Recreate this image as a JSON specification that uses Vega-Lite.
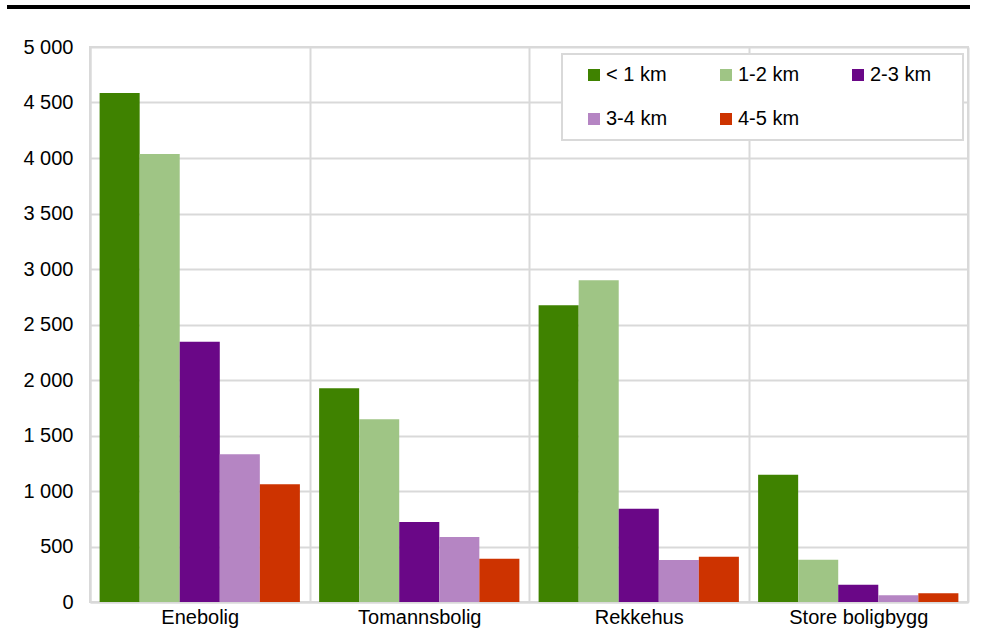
{
  "$schema": "https://vega.github.io/schema/vega-lite/v6.json",
  "padding": {"left": 7, "top": 5, "right": 0, "bottom": 0},
  "background": "white",
  "spacing": 27,
  "config": {
    "font": "Liberation Sans",
    "view": {"stroke": "#d9d9d9", "strokeWidth": 2},
    "locale": {"number": {"decimal": ",", "thousands": " ", "grouping": [3], "currency": ["", " kr"]}}
  },
  "vconcat": [
    {
      "width": 878,
      "height": 4,
      "view": {"stroke": null},
      "data": {"values": [{"start": 0, "end": 963}]},
      "mark": {"type": "rect", "color": "black", "clip": false},
      "encoding": {
        "x": {"field": "start", "type": "quantitative", "scale": {"domain": [83, 961], "zero": false, "nice": false}, "axis": null},
        "x2": {"field": "end"},
        "y": {"datum": 0, "type": "quantitative", "scale": {"domain": [0, 1]}, "axis": null},
        "y2": {"datum": 1}
      }
    },
    {
      "width": 878,
      "height": 555,
      "data": {
        "values": [
          {"bolig": "Enebolig", "avstand": "< 1 km", "antall": 4585},
          {"bolig": "Enebolig", "avstand": "1-2 km", "antall": 4035},
          {"bolig": "Enebolig", "avstand": "2-3 km", "antall": 2345},
          {"bolig": "Enebolig", "avstand": "3-4 km", "antall": 1330},
          {"bolig": "Enebolig", "avstand": "4-5 km", "antall": 1060},
          {"bolig": "Tomannsbolig", "avstand": "< 1 km", "antall": 1925},
          {"bolig": "Tomannsbolig", "avstand": "1-2 km", "antall": 1646},
          {"bolig": "Tomannsbolig", "avstand": "2-3 km", "antall": 720},
          {"bolig": "Tomannsbolig", "avstand": "3-4 km", "antall": 585},
          {"bolig": "Tomannsbolig", "avstand": "4-5 km", "antall": 390},
          {"bolig": "Rekkehus", "avstand": "< 1 km", "antall": 2673},
          {"bolig": "Rekkehus", "avstand": "1-2 km", "antall": 2898},
          {"bolig": "Rekkehus", "avstand": "2-3 km", "antall": 841},
          {"bolig": "Rekkehus", "avstand": "3-4 km", "antall": 378},
          {"bolig": "Rekkehus", "avstand": "4-5 km", "antall": 408},
          {"bolig": "Store boligbygg", "avstand": "< 1 km", "antall": 1147},
          {"bolig": "Store boligbygg", "avstand": "1-2 km", "antall": 381},
          {"bolig": "Store boligbygg", "avstand": "2-3 km", "antall": 156},
          {"bolig": "Store boligbygg", "avstand": "3-4 km", "antall": 60},
          {"bolig": "Store boligbygg", "avstand": "4-5 km", "antall": 78}
        ]
      },
      "mark": {"type": "bar"},
      "encoding": {
        "x": {
          "field": "bolig",
          "type": "nominal",
          "sort": null,
          "title": null,
          "scale": {"paddingInner": 0, "paddingOuter": 0},
          "axis": {
            "labelAngle": 0,
            "labelFontSize": 20,
            "labelColor": "#000000",
            "labelPadding": 5,
            "ticks": false,
            "tickBand": "extent",
            "grid": true,
            "gridColor": "#d9d9d9",
            "gridWidth": 2,
            "domainColor": "#d9d9d9",
            "domainWidth": 2
          }
        },
        "xOffset": {
          "field": "avstand",
          "type": "nominal",
          "scale": {"domain": ["< 1 km", "1-2 km", "2-3 km", "3-4 km", "4-5 km"], "paddingInner": 0, "paddingOuter": 0.24}
        },
        "y": {
          "field": "antall",
          "type": "quantitative",
          "title": null,
          "scale": {"domain": [0, 5000], "nice": false},
          "axis": {
            "values": [0, 500, 1000, 1500, 2000, 2500, 3000, 3500, 4000, 4500, 5000],
            "format": ",d",
            "labelFontSize": 20,
            "labelColor": "#000000",
            "ticks": false,
            "labelPadding": 17,
            "grid": true,
            "gridColor": "#d9d9d9",
            "gridWidth": 2,
            "domainColor": "#d9d9d9",
            "domainWidth": 2
          }
        },
        "color": {
          "field": "avstand",
          "type": "nominal",
          "scale": {
            "domain": ["< 1 km", "1-2 km", "2-3 km", "3-4 km", "4-5 km"],
            "range": ["#3f8200", "#9fc585", "#6a0787", "#b585c3", "#cd3300"]
          },
          "legend": {
            "title": "\u00a0",
            "titleOrient": "right",
            "titlePadding": 21,
            "titleFontSize": 19,
            "orient": "none",
            "legendX": 472,
            "legendY": 49,
            "direction": "horizontal",
            "columns": 3,
            "gridAlign": "all",
            "fillColor": "white",
            "strokeColor": "#d9d9d9",
            "padding": 11,
            "symbolType": "square",
            "symbolSize": 144,
            "symbolStrokeWidth": 0,
            "symbolOffset": 11,
            "labelFontSize": 20,
            "labelColor": "#000000",
            "labelOffset": 2,
            "columnPadding": 37,
            "rowPadding": 24,
            "encode": {"legend": {"update": {"strokeWidth": {"value": 2}}}}
          }
        }
      }
    }
  ]
}
